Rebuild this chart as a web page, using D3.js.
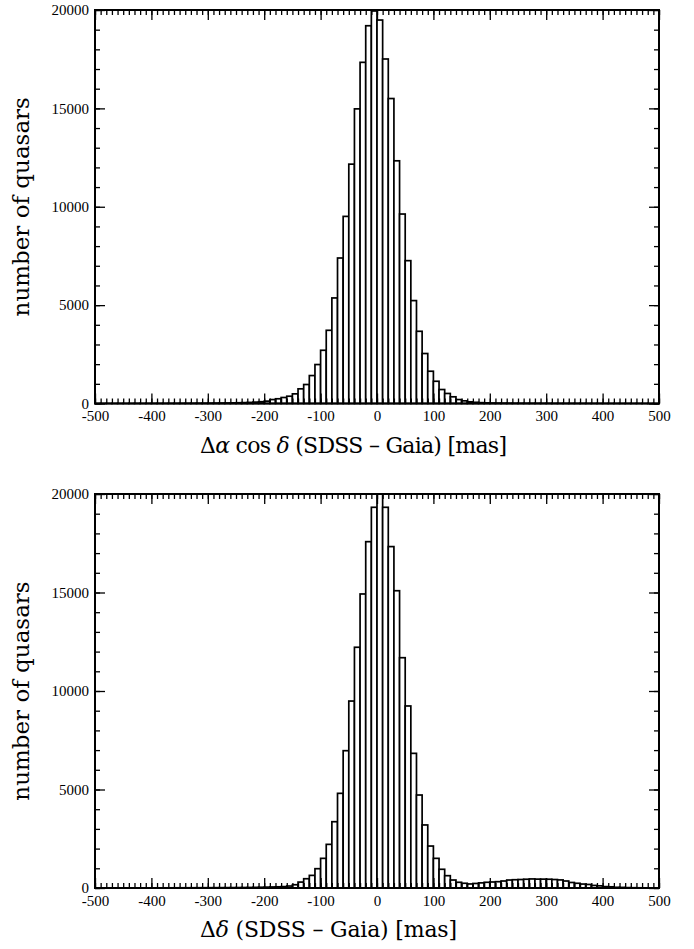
<!DOCTYPE html>
<html>
<head>
<meta charset="utf-8">
<script src="https://cdn.jsdelivr.net/npm/d3@7"></script>
<style>
  html, body { margin: 0; padding: 0; background: #fff; }
  svg { display: block; }
</style>
</head>
<body>
<svg id="chart" width="694" height="949"></svg>
<script>
// ---- data ----
const binStarts = d3.range(-500, 500, 10); // bin lower edges, width 10 mas
const countsRA = [
  4,5,4,5,6,5,6,7,6,7, 8,8,9,10,10,11,12,14,15,17,
  20,22,25,28,33,38,45,55,70,90,
  120,200,240,305,370,490,745,965,1420,1980,
  2705,3720,5365,7395,9510,12165,14975,17340,19200,19950,
  19490,17510,15500,12335,9630,7260,5230,3670,2540,1640,
  1130,710,510,340,200,135,85,60,42,32,
  26,22,19,17,15,14,13,12,11,10,
  10,9,9,8,8,7,7,6,6,6, 5,5,5,4,4,4,4,3,3,3
];
const countsDec = [
  4,4,5,5,5,6,6,6,7,7, 8,8,9,9,10,11,12,13,14,15,
  16,17,18,20,21,23,25,28,32,38,
  45,52,60,70,100,165,300,470,640,980,
  1505,2215,3365,4805,6970,9490,12220,14925,17580,19325,
  20000,19325,17330,15090,11690,9240,6835,4720,3200,2130,
  1505,950,625,405,290,240,205,230,260,290,
  305,320,355,405,420,430,445,460,450,450,
  445,430,410,355,280,240,200,180,130,110,
  70,60,35,30,20,14,10,8,6,5
];
const xMajorTicks = [-500,-400,-300,-200,-100,0,100,200,300,400,500];
const yMajorTicks = [0,5000,10000,15000,20000];
const yLabel = "number of quasars";

const svg = d3.select("#chart");
const X0 = 95, X1 = 659;
const x = d3.scaleLinear().domain([-500, 500]).range([X0, X1]);

const panels = [
  { counts: countsRA, top: 10, bottom: 403.5, label: "ra", labelY: 453, labelW: 307 },
  { counts: countsDec, top: 494, bottom: 888, label: "dec", labelY: 937, labelW: 257 }
];

panels.forEach(p => {
  const y = d3.scaleLinear().domain([0, 20000]).range([p.bottom, p.top]);
  const g = svg.append("g");

  // bars
  g.selectAll("rect.bar")
    .data(binStarts.map((b, i) => ({ b, v: p.counts[i] })))
    .enter().append("rect")
    .attr("class", "bar")
    .attr("x", d => x(d.b))
    .attr("width", d => x(d.b + 10) - x(d.b))
    .attr("y", d => y(d.v))
    .attr("height", d => y(0) - y(d.v))
    .attr("fill", "#fff")
    .attr("stroke", "#000")
    .attr("stroke-width", 1.7);

  const styleAxis = sel => {
    sel.select(".domain").remove();
    sel.selectAll(".tick line").attr("stroke", "#000").attr("stroke-width", 1.3);
    sel.selectAll(".tick text")
      .attr("font-family", "'Liberation Serif', 'Times New Roman', serif")
      .attr("font-size", 15)
      .attr("fill", "#000");
  };

  const xMinor = d3.range(-500, 501, 10);
  const yMinor = d3.range(0, 20001, 1000);

  // bottom axis
  g.append("g").attr("transform", `translate(0,${p.bottom})`)
    .call(d3.axisBottom(x).tickValues(xMinor).tickSize(-5).tickFormat("")).call(styleAxis);
  g.append("g").attr("transform", `translate(0,${p.bottom})`)
    .call(d3.axisBottom(x).tickValues(xMajorTicks).tickSize(-10).tickPadding(7).tickFormat(d => String(d)))
    .call(styleAxis);
  // top axis
  g.append("g").attr("transform", `translate(0,${p.top})`)
    .call(d3.axisTop(x).tickValues(xMinor).tickSize(-5).tickFormat("")).call(styleAxis);
  g.append("g").attr("transform", `translate(0,${p.top})`)
    .call(d3.axisTop(x).tickValues(xMajorTicks).tickSize(-10).tickFormat("")).call(styleAxis);
  // left axis
  g.append("g").attr("transform", `translate(${X0},0)`)
    .call(d3.axisLeft(y).tickValues(yMinor).tickSize(-5).tickFormat("")).call(styleAxis);
  g.append("g").attr("transform", `translate(${X0},0)`)
    .call(d3.axisLeft(y).tickValues(yMajorTicks).tickSize(-10).tickPadding(6).tickFormat(d3.format("d")))
    .call(styleAxis);
  // right axis
  g.append("g").attr("transform", `translate(${X1},0)`)
    .call(d3.axisRight(y).tickValues(yMinor).tickSize(-5).tickFormat("")).call(styleAxis);
  g.append("g").attr("transform", `translate(${X1},0)`)
    .call(d3.axisRight(y).tickValues(yMajorTicks).tickSize(-10).tickFormat("")).call(styleAxis);

  // frame
  g.append("rect")
    .attr("x", X0).attr("y", p.top)
    .attr("width", X1 - X0).attr("height", p.bottom - p.top)
    .attr("fill", "none").attr("stroke", "#000").attr("stroke-width", 2);

  // y label
  g.append("text")
    .attr("transform", `translate(29,${(p.top + p.bottom) / 2}) rotate(-90)`)
    .attr("text-anchor", "middle")
    .attr("font-family", "'DejaVu Serif', serif")
    .attr("font-size", 23)
    .attr("fill", "#000")
    .text(yLabel);

  // x label
  const t = g.append("text")
    .attr("x", 200).attr("y", p.labelY)
    .attr("text-anchor", "start")
    .attr("font-family", "'DejaVu Serif', serif")
    .attr("font-size", 22)
    .attr("fill", "#000")
    .attr("textLength", p.labelW)
    .attr("lengthAdjust", "spacing");
  if (p.label === "ra") {
    t.append("tspan").text("Δ");
    t.append("tspan").attr("font-style", "italic").text("α");
    t.append("tspan").text(" cos ");
    t.append("tspan").attr("font-style", "italic").text("δ");
  } else {
    t.append("tspan").text("Δ");
    t.append("tspan").attr("font-style", "italic").text("δ");
  }
  t.append("tspan").text(" (SDSS – Gaia) [mas]");
});
</script>
</body>
</html>
